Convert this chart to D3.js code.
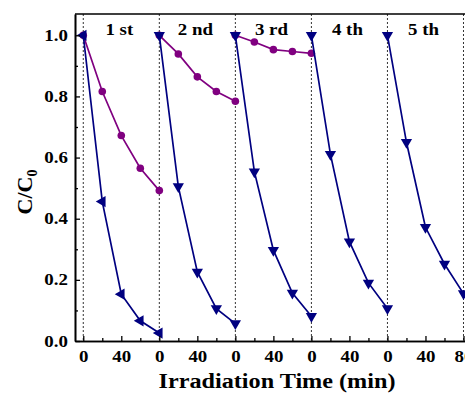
<!DOCTYPE html>
<html>
<head>
<meta charset="utf-8">
<script src="https://cdn.jsdelivr.net/npm/d3@7"></script>
<style>
  body { margin: 0; background: #fff; }
  text { font-family: "Liberation Serif", "Times New Roman", serif; font-weight: bold; }
</style>
</head>
<body>
<div id="wrapper"></div>
<script>
// sampling times within one cycle (min)
const cycleTimes = [0, 20, 40, 60, 80];
const cycleLabels = ["1 st", "2 nd", "3 rd", "4 th", "5 th"];

// purple circles: cycles 1-3
const purpleCycles = [
  [1.0, 0.816, 0.672, 0.565, 0.492],
  [1.0, 0.939, 0.864, 0.816, 0.784],
  [1.0, 0.978, 0.953, 0.947, 0.941]
];
// navy left triangles: cycle 1
const navyLeftCycle = [1.0, 0.456, 0.153, 0.066, 0.026];
// navy down triangles: cycles 2-5
const navyDownCycles = [
  [1.0, 0.505, 0.226, 0.106, 0.057],
  [1.0, 0.554, 0.297, 0.157, 0.081],
  [1.0, 0.611, 0.325, 0.190, 0.106],
  [1.0, 0.650, 0.372, 0.252, 0.155]
];

const xTickValues = [0, 40, 80, 120, 160, 200, 240, 280, 320, 360, 400];
const xTickLabels = ["0", "40", "0", "40", "0", "40", "0", "40", "0", "40", "80"];
const yTickValues = [0, 0.2, 0.4, 0.6, 0.8, 1.0];

const X_LABEL = "Irradiation Time (min)";
// the reference type is a bit wide, so stretch text horizontally
const STRETCH = 1.18;

const dimensions = {
  width: 465,
  height: 393,
  margin: { top: 14, right: -8, left: 75, bottom: 52 }
};
dimensions.boundedWidth = dimensions.width - dimensions.margin.left - dimensions.margin.right;
dimensions.boundedHeight = dimensions.height - dimensions.margin.top - dimensions.margin.bottom;

const wrapper = d3.select("#wrapper")
  .append("svg")
  .attr("width", dimensions.width)
  .attr("height", dimensions.height);

const bounds = wrapper.append("g")
  .attr("transform", `translate(${dimensions.margin.left},${dimensions.margin.top})`);

const xScale = d3.scaleLinear()
  .domain([-8.7, 410])
  .range([0, dimensions.boundedWidth]);

const yScale = d3.scaleLinear()
  .domain([0, 1.0696])
  .range([dimensions.boundedHeight, 0]);

const purple = "#800080";
const navy = "#000080";

// dotted cycle separators
bounds.append("g")
  .selectAll("line")
  .data([0, 80, 160, 240, 320, 400])
  .join("line")
  .attr("x1", d => xScale(d))
  .attr("x2", d => xScale(d))
  .attr("y1", 0)
  .attr("y2", dimensions.boundedHeight)
  .attr("stroke", "#333")
  .attr("stroke-width", 1)
  .attr("stroke-dasharray", "2,2");

// cycle labels
bounds.append("g")
  .selectAll("text")
  .data(cycleLabels)
  .join("text")
  .attr("transform", (d, i) => `translate(${xScale(i * 80 + 40) - 2},21) scale(${STRETCH},1)`)
  .attr("text-anchor", "middle")
  .style("font-size", "16px")
  .text(d => d);

const toPoints = (vals, cycle) => vals.map((v, i) => ({ t: cycle * 80 + cycleTimes[i], v }));

const line = d3.line()
  .x(d => xScale(d.t))
  .y(d => yScale(d.v));

function drawSeries(points, color, marker) {
  bounds.append("path")
    .datum(points)
    .attr("fill", "none")
    .attr("stroke", color)
    .attr("stroke-width", 1.7)
    .attr("d", line);

  if (marker === "circle") {
    bounds.append("g")
      .selectAll("circle")
      .data(points)
      .join("circle")
      .attr("cx", d => xScale(d.t))
      .attr("cy", d => yScale(d.v))
      .attr("r", 3.8)
      .attr("fill", color);
  } else {
    const rot = marker === "down" ? 180 : -90;
    const sym = d3.symbol().type(d3.symbolTriangle).size(55);
    bounds.append("g")
      .selectAll("path")
      .data(points)
      .join("path")
      .attr("d", sym)
      .attr("transform", d => `translate(${xScale(d.t)},${yScale(d.v)}) rotate(${rot})`)
      .attr("fill", color);
  }
}

purpleCycles.forEach((vals, i) => drawSeries(toPoints(vals, i), purple, "circle"));
drawSeries(toPoints(navyLeftCycle, 0), navy, "left");
navyDownCycles.forEach((vals, i) => drawSeries(toPoints(vals, i + 1), navy, "down"));

// axes
const xAxis = bounds.append("g")
  .attr("transform", `translate(0,${dimensions.boundedHeight})`)
  .call(d3.axisBottom(xScale)
    .tickValues(xTickValues)
    .tickFormat((d, i) => xTickLabels[i])
    .tickSizeInner(-5)
    .tickSizeOuter(0)
    .tickPadding(10));
xAxis.append("g")
  .call(d3.axisBottom(xScale)
    .tickValues(d3.range(20, 410, 40))
    .tickFormat("")
    .tickSizeInner(-3)
    .tickSizeOuter(0));

const yAxis = bounds.append("g")
  .call(d3.axisLeft(yScale)
    .tickValues(yTickValues)
    .tickFormat(d3.format(".1f"))
    .tickSizeInner(-5)
    .tickSizeOuter(0)
    .tickPadding(6));
yAxis.append("g")
  .call(d3.axisLeft(yScale)
    .tickValues([0.1, 0.3, 0.5, 0.7, 0.9])
    .tickFormat("")
    .tickSizeInner(-3)
    .tickSizeOuter(0));

bounds.selectAll(".domain").attr("stroke", "#000").attr("stroke-width", 1.6);
bounds.selectAll(".tick line").attr("stroke", "#000").attr("stroke-width", 1.3);
bounds.selectAll(".tick text")
  .style("font-family", '"Liberation Serif", serif')
  .style("font-weight", "bold")
  .style("font-size", "16px")
  .attr("fill", "#000")
  .attr("transform", `scale(${STRETCH},1)`);

// frame top / right
bounds.append("path")
  .attr("d", `M0,0H${dimensions.boundedWidth}V${dimensions.boundedHeight}`)
  .attr("fill", "none")
  .attr("stroke", "#000")
  .attr("stroke-width", 1.6);

// axis titles
wrapper.append("text")
  .attr("transform", "translate(277,388) scale(1.1,1)")
  .attr("text-anchor", "middle")
  .style("font-size", "22px")
  .text(X_LABEL);

const yTitle = wrapper.append("text")
  .attr("transform", "translate(32,192) rotate(-90)")
  .attr("text-anchor", "middle")
  .style("font-size", "22px");
yTitle.append("tspan").text("C/C");
yTitle.append("tspan").attr("dy", 5).style("font-size", "14px").text("0");
</script>
</body>
</html>
